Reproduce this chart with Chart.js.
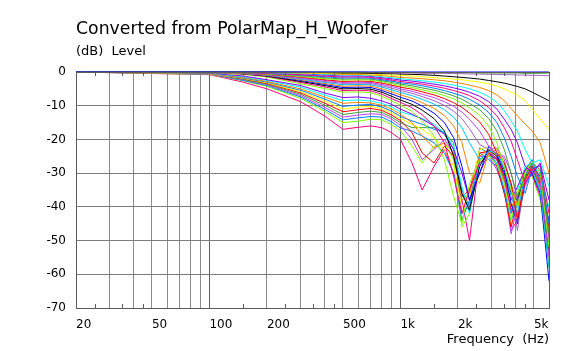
<!DOCTYPE html>
<html>
<head>
<meta charset="utf-8">
<script src="https://cdn.jsdelivr.net/npm/chart.js@4"></script>
<style>
  body { margin: 0; background: #fff; }
  #wrap { position: relative; width: 578px; height: 351px; font-family: 'DejaVu Sans', Verdana, sans-serif; color: #000; }
  #wrap canvas { position: absolute; left: 0; top: 0; }
  .txt { position: absolute; white-space: pre; }
  #titulo { left: 76px; top: 20px; font-size: 17.3px; line-height: 17px; }
  #unidad { left: 76px; top: 44px; font-size: 13px; line-height: 13px; }
  #ejeX { right: 29px; top: 332px; font-size: 13px; line-height: 13px; }
</style>
</head>
<body>
<div id="wrap">
  <canvas id="grafico" width="578" height="351"></canvas>
  <div class="txt" id="titulo">Converted from PolarMap_H_Woofer</div>
  <div class="txt" id="unidad">(dB)  Level</div>
  <div class="txt" id="ejeX">Frequency  (Hz)</div>
</div>
<script>
// frecuencias (Hz) comunes a todas las curvas
const freqs = [20, 100, 150, 200, 300, 400, 500, 600, 700, 800, 900,
  1000, 1150, 1300, 1500, 1700, 1900, 2100, 2300, 2600, 2900, 3200, 3500, 3800, 4100, 4500, 4900, 5400, 6000];

// niveles (dB), una curva por angulo
const a0   = [0,0,0,0,0,0,0,0,0,0,0, 0,0,0,0,0,0,0,0,0,0,0,0,0,0,0,0,0,0];
const a5   = [0,0,0,0,0,0,0,0,-0.1,-0.1,-0.1, -0.1,-0.1,-0.1,-0.2,-0.2,-0.2,-0.2,-0.2,-0.3,-0.3,-0.3,-0.3,-0.3,-0.3,-0.4,-0.4,-0.4,-0.3];
const a10  = [0,0,0,0,0,-0.1,-0.1,-0.1,-0.2,-0.2,-0.3, -0.3,-0.3,-0.4,-0.4,-0.4,-0.5,-0.5,-0.6,-0.6,-0.7,-0.7,-0.8,-0.8,-0.9,-0.9,-1.0,-1.0,-1.1];
const a15  = [0,0,0,0,-0.1,-0.2,-0.3,-0.3,-0.4,-0.5,-0.5, -0.6,-0.7,-0.8,-1.0,-1.2,-1.4,-1.6,-1.8,-2.1,-2.5,-2.9,-3.3,-3.8,-4.3,-5.0,-6.0,-7.2,-8.5];
const a20  = [0,0,0,-0.1,-0.2,-0.4,-0.5,-0.5,-0.6,-0.8,-0.9, -1.0,-1.2,-1.4,-1.7,-1.9,-2.1,-2.3,-2.6,-3.0,-3.5,-4.2,-5.0,-6.0,-6.8,-8.5,-11.0,-14.0,-17.0];
const a25  = [0,0,-0.1,-0.1,-0.3,-0.5,-0.7,-0.7,-0.9,-1.1,-1.3, -1.6,-1.8,-2.0,-2.3,-2.6,-3.0,-3.4,-3.9,-4.6,-5.5,-6.8,-8.5,-10.8,-13.0,-15.5,-17.5,-21.0,-30.0];
const a30  = [0,0,-0.1,-0.2,-0.4,-0.7,-0.9,-0.9,-1.1,-1.4,-1.7, -2.0,-2.3,-2.6,-3.0,-3.4,-3.9,-4.4,-5.0,-6.0,-7.3,-9.0,-11.5,-14.5,-17.5,-23.0,-27.0,-26.0,-34.0];
const a35  = [0,0,-0.1,-0.2,-0.5,-0.9,-1.2,-1.1,-1.3,-1.7,-2.0, -2.4,-2.7,-3.1,-3.6,-4.1,-4.7,-5.3,-6.0,-7.2,-8.8,-11.0,-14.0,-17.0,-21.0,-28.0,-30.0,-27.0,-38.0];
const a40  = [0,-0.1,-0.2,-0.4,-0.8,-1.2,-1.5,-1.4,-1.6,-2.0,-2.4, -2.8,-3.2,-3.6,-4.2,-4.8,-5.5,-6.2,-7.0,-8.5,-10.5,-13.0,-16.5,-20.5,-26.0,-33.0,-29.0,-27.5,-42.0];
const a45  = [0,-0.1,-0.2,-0.4,-0.9,-1.4,-1.8,-1.7,-1.8,-2.3,-2.7, -3.2,-3.6,-4.1,-4.8,-5.5,-6.3,-7.1,-8.1,-9.8,-12.0,-15.0,-19.5,-25.0,-31.0,-36.0,-28.5,-28.0,-45.0];
const a50  = [0,-0.1,-0.2,-0.5,-1.1,-1.7,-2.1,-2.0,-2.1,-2.6,-3.1, -3.6,-4.1,-4.7,-5.4,-6.2,-7.1,-8.1,-9.3,-11.2,-13.8,-17.5,-23.0,-30.0,-37.0,-31.0,-27.0,-29.0,-48.0];
const a55  = [0,-0.1,-0.3,-0.6,-1.3,-2.0,-2.4,-2.3,-2.4,-2.9,-3.5, -4.0,-4.6,-5.3,-6.1,-7.0,-8.0,-9.2,-10.6,-12.8,-16.0,-21.0,-28.0,-35.0,-40.0,-30.0,-26.5,-30.0,-52.0];
const a60  = [0,-0.1,-0.3,-0.7,-1.5,-2.3,-2.8,-2.7,-2.8,-3.3,-3.9, -4.5,-5.1,-5.9,-6.8,-7.9,-9.1,-10.5,-12.2,-14.8,-18.5,-24.0,-27.0,-33.0,-44.0,-32.0,-28.0,-31.0,-46.0];
const a65  = [0,-0.1,-0.3,-0.7,-1.7,-2.5,-3.1,-3.0,-3.1,-3.7,-4.3, -5.0,-5.7,-6.6,-7.6,-8.8,-10.2,-11.9,-14.0,-17.5,-22.0,-24.5,-25.0,-30.0,-38.0,-34.0,-29.0,-32.0,-55.0];
const a70  = [0,-0.2,-0.4,-0.8,-1.9,-2.8,-3.4,-3.3,-3.4,-4.1,-4.8, -5.5,-6.3,-7.3,-8.5,-9.9,-11.6,-13.8,-16.8,-21.5,-23.0,-22.5,-26.0,-34.0,-47.0,-31.0,-27.5,-33.0,-50.0];
const a75  = [0,-0.2,-0.4,-0.9,-2.1,-3.1,-3.8,-3.7,-3.8,-4.5,-5.3, -6.1,-7.0,-8.1,-9.5,-11.2,-13.4,-16.5,-21.0,-26.0,-23.5,-24.0,-28.0,-37.0,-42.0,-30.0,-29.5,-35.0,-58.0];
const a80  = [0,-0.2,-0.5,-1.0,-2.3,-3.4,-4.2,-4.1,-4.2,-5.0,-5.9, -6.8,-7.8,-9.1,-10.8,-12.9,-16.0,-21.0,-30.0,-33.0,-24.0,-23.0,-27.0,-33.0,-40.0,-32.0,-28.0,-34.0,-47.0];
const a85  = [0,-0.2,-0.5,-1.1,-2.5,-3.7,-4.6,-4.5,-4.6,-5.5,-6.5, -7.5,-8.6,-10.1,-12.2,-15.0,-19.5,-28.0,-38.0,-30.0,-22.0,-24.5,-29.0,-39.0,-45.0,-33.0,-30.0,-36.0,-62.0];
const a90  = [0,-0.2,-0.5,-1.2,-2.8,-4.0,-5.0,-4.9,-5.1,-6.0,-7.2, -8.3,-9.6,-11.3,-13.8,-17.5,-25.0,-36.0,-41.0,-28.0,-23.0,-25.0,-30.0,-36.0,-38.0,-31.0,-29.0,-33.0,-53.0];
const a95  = [0,-0.2,-0.6,-1.3,-3.1,-4.4,-5.5,-5.4,-5.6,-6.6,-7.9, -9.0,-10.6,-12.7,-16.0,-21.0,-31.0,-42.0,-35.0,-27.0,-24.5,-26.0,-31.0,-41.0,-43.0,-32.0,-30.5,-37.0,-49.0];
const a100 = [0,-0.3,-0.7,-1.5,-3.5,-4.9,-6.0,-5.9,-6.1,-7.2,-8.6, -9.8,-11.7,-14.5,-19.0,-26.0,-37.0,-45.0,-33.0,-26.0,-25.0,-27.5,-33.0,-44.0,-36.0,-30.0,-31.0,-38.0,-56.0];
const a105 = [0,-0.3,-1.2,-2.3,-4.0,-6.2,-7.6,-7.4,-7.8,-8.6,-9.6, -11.0,-12.5,-14.0,-16.0,-18.5,-23.0,-30.0,-38.0,-30.0,-24.0,-25.5,-31.0,-38.0,-34.0,-29.0,-28.0,-34.0,-44.0];
const a110 = [0,-0.3,-1.4,-2.5,-4.5,-6.8,-8.5,-8.3,-8.6,-9.3,-10.4, -11.8,-12.8,-13.8,-15.5,-18.0,-22.0,-34.0,-42.0,-27.0,-25.0,-27.0,-30.0,-34.0,-35.0,-28.0,-27.0,-31.0,-40.0];
const a115 = [0,-0.4,-1.6,-2.8,-5.0,-7.4,-9.3,-9.0,-9.2,-9.9,-11.0, -12.5,-15.0,-19.0,-22.5,-21.0,-24.0,-38.0,-36.0,-25.0,-23.0,-26.0,-33.0,-40.0,-37.0,-29.0,-28.5,-33.0,-47.0];
const a120 = [0,-0.4,-1.8,-3.0,-5.4,-8.0,-10.2,-9.8,-9.6,-10.4,-11.6, -13.2,-14.5,-15.5,-17.0,-18.0,-23.0,-35.0,-40.0,-26.0,-24.0,-27.0,-35.0,-44.0,-39.0,-30.0,-27.0,-32.0,-50.0];
const a125 = [0,-0.5,-1.9,-3.2,-5.8,-8.6,-11.0,-10.4,-10.2,-10.9,-12.2, -13.8,-15.5,-17.0,-19.5,-23.0,-28.0,-40.0,-37.0,-23.0,-22.0,-25.0,-31.0,-39.0,-41.0,-31.0,-29.0,-31.0,-42.0];
const a130 = [0,-0.5,-2.0,-3.4,-6.2,-9.2,-11.8,-11.2,-10.8,-11.4,-12.8, -14.4,-18.0,-24.0,-27.0,-22.0,-25.0,-37.0,-35.0,-24.0,-23.5,-28.0,-36.0,-46.0,-38.0,-29.0,-26.5,-33.0,-56.0];
const a135 = [0,-0.5,-2.2,-3.6,-6.6,-9.8,-12.6,-12.0,-11.6,-12.0,-13.4, -15.0,-16.5,-16.5,-16.5,-18.0,-21.0,-42.0,-39.0,-22.5,-24.0,-26.0,-32.0,-41.0,-36.0,-30.0,-28.0,-35.0,-48.0];
const a140 = [0,-0.6,-2.3,-3.8,-7.0,-10.4,-13.4,-12.8,-12.4,-12.6,-14.0, -15.8,-20.0,-26.0,-23.0,-20.0,-24.0,-39.0,-41.0,-25.0,-25.0,-29.0,-35.0,-48.0,-40.0,-31.0,-27.0,-30.0,-45.0];
const a145 = [0,-0.6,-2.5,-4.0,-7.4,-11.0,-14.2,-13.6,-13.2,-13.4,-14.8, -16.6,-17.5,-19.0,-21.0,-24.0,-30.0,-44.0,-38.0,-24.0,-26.0,-28.0,-36.0,-42.0,-37.0,-29.0,-26.0,-32.0,-51.0];
const a150 = [0,-0.7,-2.6,-4.3,-7.8,-11.6,-15.0,-14.6,-14.0,-14.2,-15.6, -17.4,-22.0,-27.0,-22.0,-21.0,-26.0,-46.0,-42.0,-26.5,-24.5,-27.0,-33.0,-45.0,-42.0,-32.0,-29.0,-34.0,-58.0];
const a155 = [0,-0.8,-3.0,-5.0,-8.8,-13.0,-17.0,-16.4,-16.0,-16.5,-18.0, -20.0,-27.0,-35.0,-28.0,-23.0,-30.0,-38.0,-50.0,-25.0,-23.0,-26.0,-32.0,-47.0,-44.0,-30.0,-27.0,-33.0,-50.0];

const curvas = [a0, a5, a10, a15, a20, a25, a30, a35, a40, a45, a50, a55, a60, a65, a70, a75,
  a80, a85, a90, a95, a100, a105, a110, a115, a120, a125, a130, a135, a140, a145, a150, a155];

// ejes
const xGrid = [20, 30, 40, 50, 60, 70, 80, 90, 100, 200, 300, 400, 500, 600, 700, 800, 900, 1000, 2000, 3000, 4000, 5000];
const xLabelVals = [20, 50, 100, 200, 500, 1000, 2000, 5000];
const xLabelText = ["20", "50", "100", "200", "500", "1k", "2k", "5k"];
const xMinor = [25, 35, 45, 150, 250, 350, 450, 1500, 2500, 3500, 4500];
const yTicks = [0, -10, -20, -30, -40, -50, -60, -70];

const colores = ["#0000ff", "#40a040", "#a060c0", "#000000", "#ffff00", "#ff8000", "#00ffff", "#8000ff",
  "#ff0080", "#0080ff", "#40a040", "#80ff00", "#ff0000", "#c040ff", "#a060c0", "#00c0ff",
  "#ff8000", "#0000ff", "#000000", "#ff0080", "#80ff00", "#8000ff", "#00ffff", "#ff8000",
  "#0080ff", "#ffff00", "#ff0000", "#40a040", "#c040ff", "#0080ff", "#80ff00", "#ff0080"];

// marcas cortas dentro del area (arriba y abajo) y el marco
const marcas = {
  id: "marcas",
  afterDraw(chart) {
    const { ctx, chartArea: a, scales } = chart;
    ctx.save();
    ctx.strokeStyle = "#5a5a5a";
    ctx.lineWidth = 1;
    xMinor.forEach((f) => {
      const x = Math.round(scales.x.getPixelForValue(f)) + 0.5;
      ctx.beginPath();
      ctx.moveTo(x, a.top); ctx.lineTo(x, a.top + 4);
      ctx.moveTo(x, a.bottom); ctx.lineTo(x, a.bottom - 4);
      ctx.stroke();
    });
    ctx.strokeRect(Math.round(a.left) + 0.5, Math.round(a.top) + 0.5,
      Math.round(a.right - a.left), Math.round(a.bottom - a.top));
    ctx.restore();
  }
};

Chart.defaults.font.family = "'DejaVu Sans', Verdana, sans-serif";
Chart.defaults.font.size = 12;
Chart.defaults.color = "#000";

new Chart(document.getElementById("grafico"), {
  type: "line",
  data: {
    datasets: curvas.map((c, i) => ({
      label: "c" + i,
      data: freqs.map((f, j) => ({ x: f, y: c[j] })),
      borderColor: colores[i],
      borderWidth: 1,
      pointRadius: 0,
      tension: 0,
      fill: false,
      clip: false
    }))
  },
  options: {
    responsive: false,
    animation: false,
    events: [],
    layout: { padding: { top: 72, right: 29, left: 0, bottom: 0 } },
    plugins: { legend: { display: false }, tooltip: { enabled: false } },
    scales: {
      x: {
        type: "logarithmic",
        min: 20,
        max: 6000,
        afterBuildTicks: (s) => { s.ticks = xGrid.map((v) => ({ value: v })); },
        afterFit: (s) => { s.height = 43; s.paddingLeft = 0; s.paddingRight = 0; },
        grid: {
          drawTicks: false,
          color: (c) => (c.tick && (c.tick.value === 100 || c.tick.value === 1000)) ? "#606060" : "#8c8c8c"
        },
        border: { color: "#5a5a5a" },
        ticks: {
          autoSkip: false,
          maxRotation: 0,
          align: "start",
          padding: 10,
          callback: (v) => {
            const k = xLabelVals.indexOf(v);
            return k >= 0 ? xLabelText[k] : "";
          }
        }
      },
      y: {
        min: -70,
        max: 0,
        afterBuildTicks: (s) => { s.ticks = yTicks.map((v) => ({ value: v })); },
        afterFit: (s) => { s.width = 76; s.paddingTop = 0; s.paddingBottom = 0; },
        grid: { drawTicks: false, color: "#7c7c7c" },
        border: { color: "#5a5a5a" },
        ticks: { padding: 10 }
      }
    }
  },
  plugins: [marcas]
});
</script>
</body>
</html>
